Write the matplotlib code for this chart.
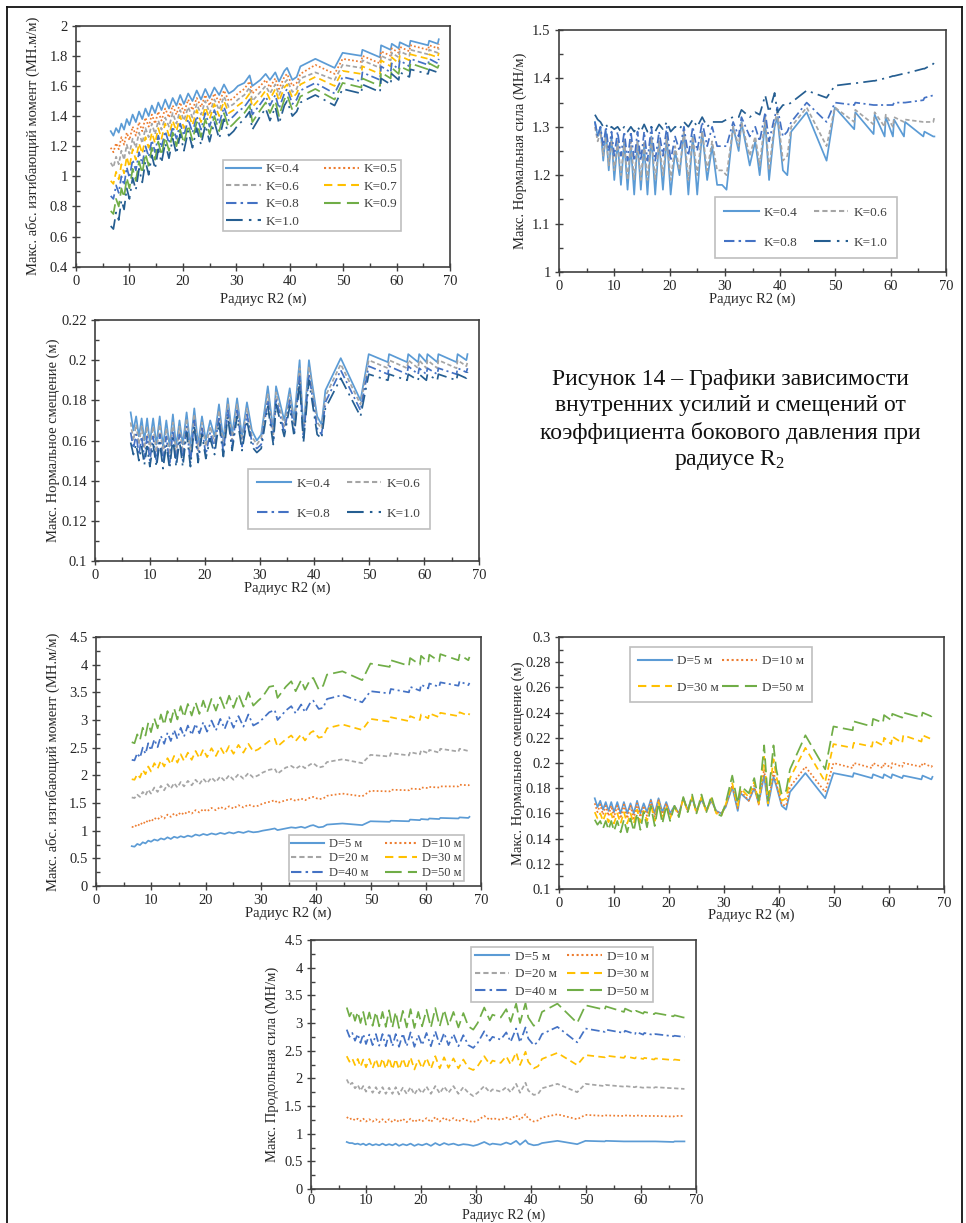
import matplotlib
matplotlib.use('Agg')
import matplotlib.pyplot as plt
from matplotlib.ticker import MultipleLocator, AutoMinorLocator, FuncFormatter
from matplotlib.lines import Line2D

plt.rcParams['font.family'] = ['Liberation Serif', 'DejaVu Serif']
plt.rcParams['mathtext.fontset'] = 'stix'

W, H = 966, 1223

# Radius R2 (m), shared by all charts
R2 = [6.5, 7.0, 7.5, 8.0, 8.5, 9.0, 9.5, 10.0, 10.6, 11.2,
      11.8, 12.4, 13.0, 13.6, 14.2, 14.8, 15.4, 16.0, 16.7, 17.4,
      18.1, 18.8, 19.5, 20.2, 21.0, 21.8, 22.6, 23.4, 24.2, 25.0,
      25.9, 26.8, 27.7, 28.6,
      29.5, 30.3, 31.5, 32.5, 33.0, 34.5, 35.5, 36.3, 37.3, 38.0,
      39.0, 39.5, 40.5, 41.3, 42.0, 44.8, 48.4, 49.9, 53.4, 53.6,
      56.9, 57.1, 58.9, 59.1, 60.4, 60.6, 62.4, 62.6, 65.9, 66.1,
      67.7, 67.9]

# --- chart 1: max abs bending moment vs K
mom_k04 = [1.30, 1.27, 1.32, 1.29, 1.35, 1.31, 1.38, 1.34, 1.41, 1.36,
           1.43, 1.38, 1.45, 1.40, 1.47, 1.42, 1.49, 1.44, 1.51, 1.45,
           1.52, 1.47, 1.54, 1.48, 1.55, 1.50, 1.57, 1.51, 1.58, 1.52,
           1.59, 1.54, 1.61, 1.55,
           1.57, 1.60, 1.62, 1.67, 1.60, 1.64, 1.68, 1.64, 1.69, 1.63,
           1.70, 1.72, 1.64, 1.66, 1.73, 1.78, 1.72, 1.82, 1.80, 1.84,
           1.79, 1.87, 1.84, 1.88, 1.85, 1.89, 1.86, 1.90, 1.87, 1.90,
           1.88, 1.91]
mom_k05 = [1.19, 1.16, 1.22, 1.18, 1.26, 1.21, 1.29, 1.24, 1.33, 1.27,
           1.36, 1.30, 1.39, 1.33, 1.41, 1.35, 1.43, 1.37, 1.45, 1.39,
           1.47, 1.41, 1.49, 1.42, 1.51, 1.44, 1.52, 1.46, 1.54, 1.47,
           1.55, 1.49, 1.57, 1.50,
           1.52, 1.55, 1.58, 1.63, 1.55, 1.60, 1.64, 1.59, 1.65, 1.58,
           1.66, 1.68, 1.60, 1.62, 1.68, 1.74, 1.68, 1.78, 1.76, 1.80,
           1.75, 1.83, 1.80, 1.85, 1.82, 1.86, 1.83, 1.87, 1.84, 1.87,
           1.85, 1.88]
mom_k06 = [1.09, 1.06, 1.13, 1.08, 1.17, 1.11, 1.21, 1.15, 1.25, 1.19,
           1.29, 1.22, 1.32, 1.26, 1.35, 1.28, 1.37, 1.31, 1.39, 1.33,
           1.42, 1.35, 1.44, 1.37, 1.46, 1.39, 1.48, 1.41, 1.50, 1.42,
           1.51, 1.44, 1.53, 1.46,
           1.48, 1.51, 1.54, 1.59, 1.50, 1.56, 1.60, 1.55, 1.61, 1.54,
           1.62, 1.64, 1.56, 1.58, 1.65, 1.69, 1.64, 1.74, 1.72, 1.77,
           1.72, 1.80, 1.77, 1.82, 1.79, 1.83, 1.80, 1.84, 1.81, 1.84,
           1.82, 1.85]
mom_k07 = [0.97, 0.95, 1.03, 0.98, 1.08, 1.02, 1.13, 1.06, 1.18, 1.11,
           1.22, 1.15, 1.26, 1.19, 1.29, 1.22, 1.32, 1.25, 1.35, 1.27,
           1.37, 1.30, 1.40, 1.32, 1.42, 1.34, 1.44, 1.36, 1.46, 1.38,
           1.48, 1.40, 1.50, 1.42,
           1.44, 1.47, 1.50, 1.55, 1.46, 1.52, 1.57, 1.51, 1.58, 1.50,
           1.59, 1.61, 1.52, 1.55, 1.61, 1.66, 1.60, 1.70, 1.68, 1.73,
           1.68, 1.77, 1.73, 1.79, 1.75, 1.80, 1.77, 1.81, 1.78, 1.81,
           1.79, 1.82]
mom_k08 = [0.87, 0.85, 0.94, 0.89, 1.00, 0.94, 1.06, 0.99, 1.11, 1.04,
           1.16, 1.08, 1.20, 1.13, 1.24, 1.16, 1.27, 1.19, 1.30, 1.22,
           1.33, 1.25, 1.35, 1.27, 1.38, 1.29, 1.40, 1.31, 1.42, 1.33,
           1.44, 1.35, 1.46, 1.37,
           1.40, 1.43, 1.46, 1.51, 1.41, 1.48, 1.53, 1.47, 1.54, 1.45,
           1.55, 1.58, 1.48, 1.51, 1.57, 1.62, 1.55, 1.66, 1.63, 1.69,
           1.64, 1.73, 1.69, 1.75, 1.71, 1.77, 1.73, 1.78, 1.74, 1.78,
           1.75, 1.78]
mom_k09 = [0.77, 0.75, 0.85, 0.80, 0.92, 0.86, 0.99, 0.92, 1.05, 0.97,
           1.10, 1.02, 1.15, 1.07, 1.19, 1.11, 1.23, 1.14, 1.26, 1.17,
           1.29, 1.20, 1.31, 1.22, 1.34, 1.24, 1.36, 1.26, 1.38, 1.28,
           1.40, 1.30, 1.42, 1.32,
           1.35, 1.38, 1.42, 1.47, 1.36, 1.44, 1.49, 1.42, 1.50, 1.40,
           1.51, 1.54, 1.44, 1.47, 1.53, 1.58, 1.51, 1.62, 1.59, 1.65,
           1.60, 1.69, 1.65, 1.72, 1.68, 1.73, 1.70, 1.75, 1.71, 1.75,
           1.72, 1.74]
mom_k10 = [0.67, 0.65, 0.76, 0.71, 0.84, 0.78, 0.92, 0.85, 0.99, 0.91,
           1.05, 0.96, 1.10, 1.01, 1.14, 1.05, 1.18, 1.09, 1.22, 1.12,
           1.25, 1.15, 1.28, 1.17, 1.30, 1.19, 1.32, 1.21, 1.34, 1.23,
           1.36, 1.25, 1.38, 1.27,
           1.30, 1.34, 1.38, 1.43, 1.31, 1.40, 1.45, 1.37, 1.46, 1.35,
           1.47, 1.50, 1.40, 1.43, 1.49, 1.54, 1.47, 1.58, 1.55, 1.61,
           1.56, 1.65, 1.61, 1.68, 1.64, 1.69, 1.66, 1.71, 1.68, 1.71,
           1.69, 1.71]

# --- chart 2: max normal force vs K
nf_k04 = [1.31, 1.28, 1.30, 1.23, 1.29, 1.21, 1.28, 1.19, 1.27, 1.18,
          1.27, 1.17, 1.26, 1.16, 1.27, 1.17, 1.26, 1.16, 1.28, 1.16,
          1.27, 1.17, 1.28, 1.16, 1.25, 1.20, 1.29, 1.16, 1.28, 1.16,
          1.29, 1.19, 1.26, 1.18,
          1.18, 1.17, 1.30, 1.25, 1.31, 1.22, 1.27, 1.20, 1.31, 1.19,
          1.30, 1.32, 1.21, 1.20, 1.29, 1.33, 1.23, 1.34, 1.295, 1.33,
          1.285, 1.325, 1.28, 1.32, 1.28, 1.315, 1.28, 1.31, 1.28, 1.29,
          1.28, 1.28]
nf_k06 = [1.30, 1.27, 1.29, 1.24, 1.28, 1.22, 1.28, 1.21, 1.27, 1.20,
          1.27, 1.19, 1.27, 1.19, 1.27, 1.19, 1.27, 1.19, 1.28, 1.19,
          1.27, 1.20, 1.28, 1.19, 1.26, 1.21, 1.29, 1.19, 1.28, 1.20,
          1.29, 1.21, 1.27, 1.21,
          1.21, 1.20, 1.30, 1.26, 1.31, 1.24, 1.28, 1.22, 1.32, 1.21,
          1.31, 1.33, 1.23, 1.24, 1.30, 1.34, 1.26, 1.34, 1.31, 1.335,
          1.305, 1.33, 1.30, 1.325, 1.30, 1.32, 1.31, 1.315, 1.31, 1.31,
          1.31, 1.32]
nf_k08 = [1.31, 1.28, 1.30, 1.26, 1.30, 1.25, 1.29, 1.24, 1.29, 1.24,
          1.29, 1.23, 1.29, 1.23, 1.29, 1.23, 1.29, 1.23, 1.30, 1.23,
          1.29, 1.24, 1.30, 1.23, 1.28, 1.25, 1.30, 1.24, 1.30, 1.25,
          1.31, 1.26, 1.30, 1.26,
          1.26, 1.26, 1.31, 1.28, 1.32, 1.28, 1.30, 1.27, 1.33, 1.27,
          1.32, 1.34, 1.28, 1.29, 1.31, 1.35, 1.31, 1.35, 1.345, 1.35,
          1.345, 1.345, 1.345, 1.345, 1.345, 1.35, 1.35, 1.35, 1.355, 1.36,
          1.365, 1.37]
nf_k10 = [1.325, 1.315, 1.31, 1.30, 1.305, 1.295, 1.30, 1.295, 1.30, 1.29,
          1.30, 1.29, 1.30, 1.29, 1.30, 1.29, 1.305, 1.29, 1.30, 1.29,
          1.305, 1.295, 1.31, 1.29, 1.30, 1.295, 1.31, 1.30, 1.315, 1.30,
          1.32, 1.30, 1.31, 1.31,
          1.31, 1.315, 1.32, 1.32, 1.335, 1.32, 1.33, 1.325, 1.365, 1.33,
          1.37, 1.33, 1.345, 1.345, 1.35, 1.375, 1.36, 1.385, 1.39, 1.39,
          1.395, 1.395, 1.40, 1.40, 1.405, 1.405, 1.41, 1.41, 1.42, 1.42,
          1.43, 1.435]

# --- chart 3: max normal displacement vs K
dk_k04 = [0.174, 0.165, 0.172, 0.162, 0.171, 0.160, 0.171, 0.159, 0.171, 0.158,
          0.172, 0.157, 0.170, 0.157, 0.173, 0.157, 0.170, 0.158, 0.174, 0.157,
          0.176, 0.158, 0.172, 0.160, 0.170, 0.162, 0.178, 0.160, 0.181, 0.163,
          0.181, 0.162, 0.179, 0.165,
          0.160, 0.163, 0.187, 0.165, 0.187, 0.170, 0.186, 0.170, 0.200, 0.165,
          0.200, 0.190, 0.172, 0.168, 0.185, 0.201, 0.180, 0.203, 0.199, 0.203,
          0.199, 0.203, 0.199, 0.203, 0.199, 0.203, 0.199, 0.203, 0.199, 0.203,
          0.200, 0.203]
dk_k06 = [0.169, 0.160, 0.168, 0.158, 0.167, 0.156, 0.167, 0.155, 0.167, 0.154,
          0.168, 0.153, 0.166, 0.153, 0.169, 0.153, 0.167, 0.154, 0.171, 0.153,
          0.173, 0.155, 0.169, 0.157, 0.167, 0.159, 0.175, 0.157, 0.178, 0.160,
          0.178, 0.160, 0.176, 0.162,
          0.158, 0.161, 0.183, 0.163, 0.184, 0.167, 0.183, 0.167, 0.196, 0.163,
          0.197, 0.187, 0.169, 0.166, 0.182, 0.198, 0.178, 0.200, 0.196, 0.200,
          0.196, 0.200, 0.196, 0.200, 0.196, 0.200, 0.196, 0.200, 0.196, 0.200,
          0.197, 0.199]
dk_k08 = [0.164, 0.156, 0.163, 0.153, 0.162, 0.151, 0.162, 0.150, 0.162, 0.149,
          0.163, 0.149, 0.162, 0.148, 0.165, 0.149, 0.163, 0.150, 0.167, 0.149,
          0.170, 0.151, 0.166, 0.153, 0.164, 0.156, 0.172, 0.154, 0.175, 0.157,
          0.175, 0.157, 0.173, 0.159,
          0.156, 0.158, 0.180, 0.160, 0.181, 0.164, 0.180, 0.164, 0.192, 0.161,
          0.193, 0.184, 0.166, 0.163, 0.179, 0.195, 0.175, 0.197, 0.193, 0.197,
          0.193, 0.197, 0.193, 0.196, 0.193, 0.196, 0.193, 0.196, 0.193, 0.196,
          0.194, 0.196]
dk_k10 = [0.159, 0.153, 0.158, 0.150, 0.157, 0.148, 0.157, 0.147, 0.158, 0.147,
          0.159, 0.146, 0.158, 0.146, 0.161, 0.147, 0.160, 0.147, 0.164, 0.147,
          0.167, 0.149, 0.163, 0.151, 0.161, 0.153, 0.169, 0.152, 0.172, 0.155,
          0.172, 0.155, 0.170, 0.157,
          0.154, 0.156, 0.177, 0.158, 0.178, 0.162, 0.177, 0.162, 0.189, 0.159,
          0.190, 0.181, 0.163, 0.161, 0.176, 0.191, 0.172, 0.193, 0.190, 0.193,
          0.190, 0.193, 0.190, 0.193, 0.190, 0.193, 0.190, 0.193, 0.190, 0.193,
          0.191, 0.194]

# --- chart 4: max abs bending moment vs depth D
mom_d5 = [0.72, 0.71, 0.76, 0.74, 0.79, 0.77, 0.82, 0.80, 0.84, 0.82,
          0.86, 0.84, 0.88, 0.85, 0.89, 0.87, 0.90, 0.88, 0.91, 0.89,
          0.93, 0.91, 0.94, 0.92, 0.95, 0.93, 0.96, 0.94, 0.97, 0.95,
          0.98, 0.96, 0.99, 0.97,
          0.98, 1.00, 1.02, 1.04, 1.01, 1.04, 1.06, 1.05, 1.07, 1.05,
          1.09, 1.10, 1.06, 1.07, 1.11, 1.13, 1.10, 1.17, 1.16, 1.18,
          1.17, 1.20, 1.19, 1.21, 1.20, 1.22, 1.21, 1.23, 1.22, 1.24,
          1.23, 1.25]
mom_d10 = [1.07, 1.06, 1.12, 1.09, 1.16, 1.13, 1.20, 1.16, 1.23, 1.20,
           1.26, 1.22, 1.29, 1.25, 1.31, 1.27, 1.33, 1.29, 1.35, 1.31,
           1.37, 1.33, 1.39, 1.35, 1.41, 1.37, 1.43, 1.39, 1.44, 1.40,
           1.46, 1.42, 1.47, 1.44,
           1.45, 1.49, 1.52, 1.55, 1.50, 1.55, 1.57, 1.54, 1.58, 1.55,
           1.60, 1.61, 1.57, 1.58, 1.63, 1.67, 1.62, 1.72, 1.71, 1.74,
           1.73, 1.76, 1.75, 1.78, 1.77, 1.79, 1.78, 1.80, 1.80, 1.83,
           1.82, 1.83]
mom_d20 = [1.60, 1.59, 1.65, 1.61, 1.70, 1.64, 1.74, 1.67, 1.78, 1.70,
           1.81, 1.73, 1.84, 1.76, 1.86, 1.78, 1.88, 1.80, 1.90, 1.82,
           1.92, 1.84, 1.94, 1.86, 1.96, 1.88, 1.98, 1.90, 2.00, 1.92,
           2.02, 1.94, 2.04, 1.96,
           2.00, 2.05, 2.10, 2.12, 2.03, 2.14, 2.17, 2.12, 2.18, 2.13,
           2.20, 2.22, 2.14, 2.16, 2.24, 2.29, 2.22, 2.37, 2.34, 2.40,
           2.36, 2.42, 2.38, 2.45, 2.40, 2.46, 2.41, 2.48, 2.43, 2.48,
           2.44, 2.46]
mom_d30 = [1.93, 1.92, 2.02, 1.96, 2.10, 2.02, 2.16, 2.07, 2.22, 2.12,
           2.27, 2.16, 2.31, 2.20, 2.35, 2.23, 2.38, 2.26, 2.41, 2.28,
           2.44, 2.31, 2.47, 2.33, 2.49, 2.35, 2.51, 2.37, 2.53, 2.39,
           2.55, 2.41, 2.57, 2.43,
           2.47, 2.53, 2.62, 2.66, 2.52, 2.65, 2.72, 2.62, 2.74, 2.63,
           2.77, 2.80, 2.68, 2.70, 2.85, 2.92, 2.82, 3.02, 2.97, 3.05,
           2.98, 3.07, 3.00, 3.10, 3.03, 3.12, 3.05, 3.13, 3.07, 3.14,
           3.08, 3.12]
mom_d40 = [2.28, 2.27, 2.40, 2.32, 2.50, 2.39, 2.58, 2.45, 2.65, 2.51,
           2.71, 2.57, 2.77, 2.62, 2.82, 2.66, 2.86, 2.70, 2.90, 2.73,
           2.93, 2.76, 2.96, 2.79, 2.99, 2.81, 3.02, 2.84, 3.05, 2.86,
           3.07, 2.88, 3.10, 2.90,
           2.95, 3.02, 3.14, 3.18, 3.00, 3.17, 3.25, 3.12, 3.28, 3.14,
           3.32, 3.35, 3.20, 3.22, 3.38, 3.45, 3.32, 3.52, 3.48, 3.56,
           3.50, 3.60, 3.53, 3.64, 3.57, 3.66, 3.60, 3.68, 3.62, 3.70,
           3.63, 3.67]
mom_d50 = [2.60, 2.58, 2.74, 2.64, 2.86, 2.72, 2.95, 2.78, 3.03, 2.85,
           3.10, 2.91, 3.16, 2.96, 3.21, 3.01, 3.25, 3.05, 3.29, 3.08,
           3.32, 3.11, 3.35, 3.14, 3.38, 3.17, 3.41, 3.20, 3.44, 3.22,
           3.47, 3.24, 3.50, 3.26,
           3.35, 3.42, 3.60, 3.62, 3.40, 3.60, 3.70, 3.52, 3.72, 3.55,
           3.74, 3.76, 3.55, 3.62, 3.82, 3.88, 3.72, 4.02, 3.96, 4.08,
           3.98, 4.12, 4.00, 4.16, 4.04, 4.18, 4.06, 4.19, 4.08, 4.18,
           4.08, 4.14]

# --- chart 5: max normal displacement vs depth D
dd_d5 = [0.172, 0.165, 0.170, 0.163, 0.169, 0.162, 0.169, 0.161, 0.169, 0.160,
         0.169, 0.160, 0.168, 0.160, 0.170, 0.160, 0.168, 0.161, 0.171, 0.160,
         0.172, 0.161, 0.169, 0.160, 0.166, 0.160, 0.172, 0.163, 0.172, 0.162,
         0.171, 0.163, 0.170, 0.162,
         0.160, 0.165, 0.181, 0.162, 0.176, 0.170, 0.180, 0.168, 0.190, 0.166,
         0.189, 0.182, 0.166, 0.163, 0.177, 0.192, 0.172, 0.192, 0.189, 0.192,
         0.188, 0.191, 0.188, 0.191, 0.188, 0.191, 0.188, 0.190, 0.187, 0.190,
         0.187, 0.189]
dd_d10 = [0.168, 0.161, 0.167, 0.159, 0.166, 0.158, 0.166, 0.157, 0.166, 0.156,
          0.167, 0.156, 0.166, 0.156, 0.168, 0.157, 0.166, 0.158, 0.170, 0.157,
          0.171, 0.158, 0.168, 0.158, 0.166, 0.159, 0.172, 0.162, 0.173, 0.161,
          0.172, 0.162, 0.171, 0.161,
          0.160, 0.166, 0.182, 0.164, 0.178, 0.170, 0.182, 0.167, 0.195, 0.167,
          0.193, 0.184, 0.167, 0.166, 0.181, 0.197, 0.177, 0.200, 0.196, 0.200,
          0.196, 0.200, 0.196, 0.200, 0.196, 0.200, 0.197, 0.200, 0.197, 0.200,
          0.197, 0.198]
dd_d30 = [0.161, 0.156, 0.160, 0.154, 0.160, 0.153, 0.160, 0.152, 0.160, 0.152,
          0.161, 0.152, 0.160, 0.152, 0.163, 0.153, 0.162, 0.154, 0.167, 0.154,
          0.169, 0.155, 0.166, 0.156, 0.165, 0.158, 0.172, 0.161, 0.173, 0.160,
          0.173, 0.161, 0.172, 0.160,
          0.158, 0.167, 0.184, 0.166, 0.180, 0.173, 0.185, 0.168, 0.205, 0.168,
          0.203, 0.190, 0.170, 0.172, 0.188, 0.212, 0.185, 0.215, 0.212, 0.216,
          0.213, 0.218, 0.214, 0.220, 0.215, 0.221, 0.216, 0.222, 0.217, 0.222,
          0.219, 0.221]
dd_d50 = [0.155, 0.151, 0.154, 0.148, 0.154, 0.147, 0.154, 0.146, 0.154, 0.145,
          0.155, 0.145, 0.156, 0.146, 0.160, 0.147, 0.161, 0.149, 0.166, 0.150,
          0.168, 0.152, 0.166, 0.154, 0.166, 0.157, 0.173, 0.161, 0.175, 0.160,
          0.175, 0.161, 0.174, 0.160,
          0.158, 0.168, 0.190, 0.168, 0.182, 0.176, 0.188, 0.170, 0.214, 0.170,
          0.214, 0.195, 0.175, 0.178, 0.195, 0.222, 0.195, 0.229, 0.226, 0.233,
          0.229, 0.235, 0.232, 0.238, 0.234, 0.239, 0.236, 0.240, 0.236, 0.240,
          0.237, 0.241]

# --- chart 6: max longitudinal force vs depth D
ax_d5 = [0.85, 0.83, 0.83, 0.81, 0.82, 0.80, 0.82, 0.79, 0.82, 0.79,
         0.81, 0.79, 0.82, 0.79, 0.81, 0.79, 0.82, 0.78, 0.81, 0.79,
         0.82, 0.78, 0.81, 0.79, 0.82, 0.78, 0.83, 0.79, 0.83, 0.80,
         0.82, 0.79, 0.81, 0.80,
         0.78, 0.80, 0.85, 0.80, 0.82, 0.80, 0.84, 0.81, 0.87, 0.80,
         0.88, 0.82, 0.79, 0.80, 0.83, 0.87, 0.81, 0.87, 0.86, 0.87,
         0.86, 0.86, 0.86, 0.86, 0.86, 0.86, 0.86, 0.86, 0.85, 0.86,
         0.86, 0.86]
ax_d10 = [1.30, 1.26, 1.28, 1.24, 1.27, 1.23, 1.27, 1.22, 1.26, 1.22,
          1.26, 1.21, 1.26, 1.21, 1.26, 1.21, 1.26, 1.21, 1.27, 1.21,
          1.27, 1.21, 1.26, 1.22, 1.28, 1.21, 1.30, 1.22, 1.29, 1.23,
          1.28, 1.22, 1.27, 1.23,
          1.21, 1.24, 1.32, 1.25, 1.28, 1.25, 1.29, 1.26, 1.33, 1.25,
          1.35, 1.27, 1.22, 1.24, 1.29, 1.35, 1.26, 1.34, 1.32, 1.33,
          1.32, 1.33, 1.32, 1.33, 1.32, 1.32, 1.32, 1.32, 1.31, 1.32,
          1.32, 1.32]
ax_d20 = [1.98, 1.88, 1.92, 1.82, 1.88, 1.78, 1.86, 1.76, 1.85, 1.74,
          1.84, 1.73, 1.84, 1.72, 1.83, 1.72, 1.84, 1.71, 1.83, 1.72,
          1.84, 1.71, 1.82, 1.73, 1.85, 1.72, 1.86, 1.73, 1.85, 1.74,
          1.86, 1.72, 1.84, 1.74,
          1.68, 1.74, 1.86, 1.75, 1.80, 1.76, 1.84, 1.75, 1.90, 1.74,
          1.92, 1.78, 1.70, 1.72, 1.82, 1.90, 1.75, 1.90, 1.86, 1.88,
          1.85, 1.86, 1.84, 1.85, 1.83, 1.84, 1.83, 1.84, 1.82, 1.82,
          1.81, 1.81]
ax_d30 = [2.40, 2.30, 2.36, 2.24, 2.35, 2.21, 2.34, 2.20, 2.35, 2.18,
          2.35, 2.17, 2.36, 2.17, 2.37, 2.16, 2.35, 2.16, 2.36, 2.17,
          2.38, 2.16, 2.34, 2.18, 2.37, 2.17, 2.40, 2.18, 2.38, 2.19,
          2.36, 2.18, 2.34, 2.19,
          2.15, 2.22, 2.40, 2.25, 2.32, 2.28, 2.40, 2.25, 2.47, 2.24,
          2.48, 2.30, 2.18, 2.22, 2.35, 2.46, 2.24, 2.42, 2.38, 2.41,
          2.37, 2.40, 2.36, 2.38, 2.35, 2.37, 2.34, 2.36, 2.33, 2.34,
          2.32, 2.32]
ax_d40 = [2.88, 2.75, 2.82, 2.68, 2.80, 2.64, 2.80, 2.62, 2.79, 2.60,
          2.80, 2.59, 2.80, 2.58, 2.82, 2.58, 2.80, 2.57, 2.81, 2.58,
          2.83, 2.57, 2.78, 2.60, 2.82, 2.58, 2.85, 2.60, 2.82, 2.60,
          2.80, 2.58, 2.78, 2.60,
          2.55, 2.64, 2.85, 2.68, 2.75, 2.70, 2.83, 2.66, 2.90, 2.65,
          2.92, 2.72, 2.60, 2.66, 2.80, 2.93, 2.65, 2.90, 2.84, 2.88,
          2.82, 2.86, 2.80, 2.84, 2.79, 2.82, 2.78, 2.80, 2.76, 2.77,
          2.75, 2.75]
ax_d50 = [3.28, 3.12, 3.22, 3.04, 3.20, 3.00, 3.20, 2.97, 3.19, 2.95,
          3.20, 2.94, 3.20, 2.93, 3.23, 2.92, 3.20, 2.91, 3.22, 2.92,
          3.25, 2.91, 3.20, 2.94, 3.24, 2.92, 3.27, 2.94, 3.24, 2.95,
          3.20, 2.92, 3.18, 2.94,
          2.88, 3.00, 3.28, 3.05, 3.15, 3.10, 3.25, 3.02, 3.35, 3.00,
          3.36, 3.10, 2.95, 3.00, 3.20, 3.35, 3.00, 3.32, 3.24, 3.30,
          3.20, 3.26, 3.18, 3.22, 3.17, 3.20, 3.16, 3.18, 3.12, 3.14,
          3.10, 3.10]

K_LABELS = ['K=0.4', 'K=0.5', 'K=0.6', 'K=0.7', 'K=0.8', 'K=0.9', 'K=1.0']
D_LABELS = ['D=5 м', 'D=10 м', 'D=20 м', 'D=30 м', 'D=40 м', 'D=50 м']

# excel-ish colours / dash patterns
BLUE, ORANGE, GRAY, GOLD = '#5B9BD5', '#ED7D31', '#A5A5A5', '#FFC000'
BLUE2, GREEN, NAVY = '#4472C4', '#70AD47', '#255E91'
SOLID = '-'
DOT = (0, (1, 1.3))
SDASH = (0, (2.5, 1.5))
DASH = (0, (4, 2.5))
DASHDOT = (0, (5, 2, 1.2, 2))
LDASH = (0, (8, 3))
LDASHDOT = (0, (8, 3, 1.2, 3))

STY = {'K=0.4': (BLUE, SOLID), 'K=0.5': (ORANGE, DOT), 'K=0.6': (GRAY, SDASH),
       'K=0.7': (GOLD, DASH), 'K=0.8': (BLUE2, DASHDOT), 'K=0.9': (GREEN, LDASH),
       'K=1.0': (NAVY, LDASHDOT),
       'D=5 м': (BLUE, SOLID), 'D=10 м': (ORANGE, DOT), 'D=20 м': (GRAY, SDASH),
       'D=30 м': (GOLD, DASH), 'D=40 м': (BLUE2, DASHDOT), 'D=50 м': (GREEN, LDASH)}


def make_axes(fig, l, r, t, b, ylim, ystep, ylabel, ylab_dx, xlab_dy, xpad=3, xfs=10.5):
    ax = fig.add_axes([l / W, 1 - b / H, (r - l) / W, (b - t) / H])
    ax.set_xlim(0, 70)
    ax.set_ylim(*ylim)
    ax.xaxis.set_major_locator(MultipleLocator(10))
    ax.xaxis.set_minor_locator(MultipleLocator(5))
    ax.yaxis.set_major_locator(MultipleLocator(ystep))
    ax.yaxis.set_minor_locator(AutoMinorLocator(2))
    ax.yaxis.set_major_formatter(FuncFormatter(lambda v, p: '%g' % round(v, 4)))
    ax.tick_params(which='major', direction='inout', length=6, width=1,
                   color='#404040', labelsize=10.5, labelcolor='#262626', pad=3)
    ax.tick_params(axis='x', which='major', pad=xpad)
    ax.tick_params(which='minor', direction='in', length=3, width=1, color='#404040')
    for s in ax.spines.values():
        s.set_color('#404040')
        s.set_linewidth(1.2)
    ax.set_ylabel(ylabel, fontsize=10.5, va='center', color='#262626')
    ax.set_xlabel('Радиус R2 (м)', fontsize=xfs, va='center', color='#262626')
    ax.yaxis.set_label_coords(-ylab_dx / (r - l), 0.5)
    ax.xaxis.set_label_coords(0.5, -xlab_dy / (b - t))
    return ax


def draw(ax, series, labels):
    for vals, lab in zip(series, labels):
        c, ls = STY[lab]
        ax.plot(R2, vals, color=c, ls=ls, lw=1.25)


def legend(ax, order, box, spacing, fs=9.5, bpad=0.3):
    x0, y0, x1, y1 = box
    hs = [Line2D([], [], color=STY[k][0], ls=STY[k][1], lw=1.5) for k in order]
    leg = ax.legend(hs, order, loc='center', bbox_to_anchor=(x0, y0, x1 - x0, y1 - y0),
                    mode='expand', ncol=2, fontsize=fs, labelspacing=spacing,
                    handlelength=2.6, handletextpad=0.4, borderpad=bpad,
                    borderaxespad=0, fancybox=False, framealpha=1,
                    edgecolor='#BFBFBF', columnspacing=1.5)
    leg.get_frame().set_linewidth(1.2)
    for t in leg.get_texts():
        t.set_color('#404040')


def main():
    fig = plt.figure(figsize=(W / 100, H / 100), dpi=100)

    # chart 1
    ax = make_axes(fig, 76, 450, 25.7, 266.7, (0.4, 2.0), 0.2,
                   'Макс. абс. изгибающий момент (МН.м/м)', 43, 33)
    draw(ax, [mom_k04, mom_k05, mom_k06, mom_k07, mom_k08, mom_k09, mom_k10], K_LABELS)
    legend(ax, ['K=0.4', 'K=0.6', 'K=0.8', 'K=1.0', 'K=0.5', 'K=0.7', 'K=0.9'],
           (0.393, 0.152, 0.869, 0.439), 0.4, bpad=0.25)

    # chart 2
    ax = make_axes(fig, 559, 946, 30, 272, (1.0, 1.5), 0.1,
                   'Макс. Нормальная сила (МН/м)', 39, 27)
    draw(ax, [nf_k04, nf_k06, nf_k08, nf_k10], ['K=0.4', 'K=0.6', 'K=0.8', 'K=1.0'])
    legend(ax, ['K=0.4', 'K=0.8', 'K=0.6', 'K=1.0'], (0.403, 0.058, 0.873, 0.31), 1.35, bpad=0.7)

    # chart 3
    ax = make_axes(fig, 95, 479, 320, 561, (0.1, 0.22), 0.02,
                   'Макс. Нормальное смещение (м)', 42, 27)
    draw(ax, [dk_k04, dk_k06, dk_k08, dk_k10], ['K=0.4', 'K=0.6', 'K=0.8', 'K=1.0'])
    legend(ax, ['K=0.4', 'K=0.8', 'K=0.6', 'K=1.0'], (0.398, 0.133, 0.872, 0.382), 1.35, bpad=0.7)

    # chart 4
    ax = make_axes(fig, 96, 481, 637, 886, (0, 4.5), 0.5,
                   'Макс. абс. изгибающий момент (МН.м/м)', 43, 27)
    draw(ax, [mom_d5, mom_d10, mom_d20, mom_d30, mom_d40, mom_d50], D_LABELS)
    legend(ax, ['D=5 м', 'D=20 м', 'D=40 м', 'D=10 м', 'D=30 м', 'D=50 м'],
           (0.501, 0.016, 0.956, 0.205), 0.2, fs=9, bpad=0.2)

    # chart 5
    ax = make_axes(fig, 559, 944, 637, 889, (0.1, 0.3), 0.02,
                   'Макс. Нормальное смещение (м)', 41, 26)
    draw(ax, [dd_d5, dd_d10, dd_d30, dd_d50], ['D=5 м', 'D=10 м', 'D=30 м', 'D=50 м'])
    legend(ax, ['D=5 м', 'D=30 м', 'D=10 м', 'D=50 м'], (0.184, 0.746, 0.657, 0.956), 1.1, bpad=0.6)

    # chart 6 (x label squeezed against the bottom edge of the page)
    ax = make_axes(fig, 311, 696, 940, 1189, (0, 4.5), 0.5,
                   'Макс. Продольная сила (МН/м)', 39, 26, xpad=0.5, xfs=10)
    draw(ax, [ax_d5, ax_d10, ax_d20, ax_d30, ax_d40, ax_d50], D_LABELS)
    legend(ax, ['D=5 м', 'D=20 м', 'D=40 м', 'D=10 м', 'D=30 м', 'D=50 м'],
           (0.416, 0.758, 0.888, 0.968), 0.4, bpad=0.3)

    # caption
    cap = ['Рисунок 14 – Графики зависимости',
           'внутренних усилий и смещений от',
           'коэффициента бокового давления при',
           'радиусе R$_\\mathregular{2}$']
    for line, y in zip(cap, [379, 406, 433, 460]):
        fig.text(730 / W, 1 - y / H, line, ha='center', va='center', fontsize=17, color='#111111')

    # page frame
    for xs, ys in [([7, 7], [H, 7]), ([7, 962], [7, 7]), ([962, 962], [7, H])]:
        fig.add_artist(Line2D([x / W for x in xs], [1 - y / H for y in ys],
                              transform=fig.transFigure, color='#111111', lw=1.3))

    fig.savefig('out.png', dpi=100)


if __name__ == '__main__':
    main()
